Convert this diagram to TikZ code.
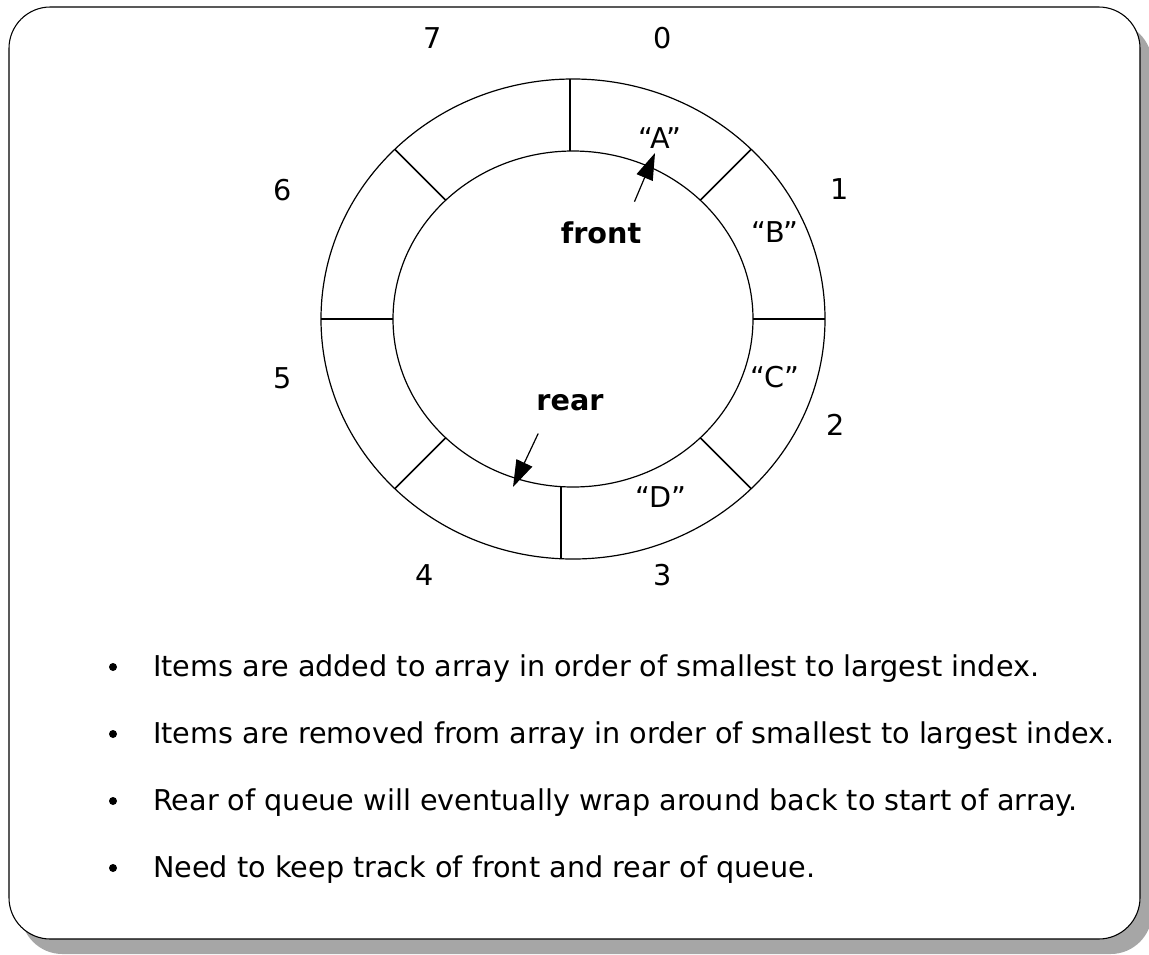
\documentclass[tikz,border=0pt]{standalone}
\usepackage{fontspec}
\setmainfont{DejaVu Sans}
\usepackage{tikz}
\usetikzlibrary{positioning, arrows.meta}
\definecolor{ombregris}{RGB}{166,166,166}
\definecolor{traitnoir}{RGB}{0,0,0}

\begin{document}
\begin{tikzpicture}[x=0.75pt, y=-0.75pt,
    trait/.style={traitnoir, line width=0.9pt},
    rayon/.style={traitnoir, line width=1.2pt},
    etiq/.style={inner sep=0pt, font=\fontsize{21.5}{26}\selectfont},
    gras/.style={etiq, font=\fontsize{21.5}{26}\selectfont\bfseries},
    ligne/.style={etiq, anchor=base west},
    pointeur/.style={-{Triangle[length=20pt, width=13pt]}, line width=0.9pt}]
        \useasboundingbox (0,0) rectangle (1149,954);
        % cadre avec ombre
        \fill[ombregris, rounded corners=31pt] (21,22) rectangle (1152,954);
        \draw[fill=white, line width=0.8pt, rounded corners=31pt] (9,7) rectangle (1140,939);
        % anneau du tableau
        \draw[trait] (573,319) ellipse [x radius=189pt, y radius=180pt];
        \draw[trait] (573,319) ellipse [x radius=135pt, y radius=126pt];
        \foreach \a in {0,45,135,180,225,315}
          \draw[rayon] ({573+180*cos(\a)},{319-168*sin(\a)}) -- ({573+252*cos(\a)},{319-240*sin(\a)});
        \draw[rayon] (570,151) -- (570,79);
        \draw[rayon] (561,487) -- (561,559);
        % indices
        \node[etiq] (n0) at (663,38) {0};
        \node[etiq] (n1) at (840,189) {1};
        \node[etiq] (n2) at (836,425) {2};
        \node[etiq] (n3) at (663,575) {3};
        \node[etiq] (n4) at (425,575) {4};
        \node[etiq] (n5) at (283,378) {5};
        \node[etiq] (n6) at (283,190) {6};
        \node[etiq] (n7) at (433,38) {7};
        % elements
        \node[etiq] (vA) at (660,138) {“A”};
        \node[etiq] (vB) at (775,232) {“B”};
        \node[etiq] (vC) at (775,377) {“C”};
        \node[etiq] (vD) at (661,497) {“D”};
        % pointeurs
        \node[gras] (front) at (601,233) {front};
        \node[gras] (rear) at (570,403) {rear};
        \coordinate (ftip) at (655,153);
        \coordinate (rtip) at (513,487);
        \draw[pointeur] ([shift={(-7,-20)}]front.north east) -- (ftip);
        \draw[pointeur] ([shift={(2,22)}]rear.south west) -- (rtip);
        % texte
        \fill (113,667) circle (3pt);
        \node[ligne] (l1) at (153,676) {Items are added to array in order of smallest to largest index.};
        \fill (113,734) circle (3pt);
        \node[ligne] (l2) at (153,743) {Items are removed from array in order of smallest to largest index.};
        \fill (113,801) circle (3pt);
        \node[ligne] (l3) at (153,810) {Rear of queue will eventually wrap around back to start of array.};
        \fill (113,868) circle (3pt);
        \node[ligne] (l4) at (153,877) {Need to keep track of front and rear of queue.};
      \end{tikzpicture}
\end{document}
